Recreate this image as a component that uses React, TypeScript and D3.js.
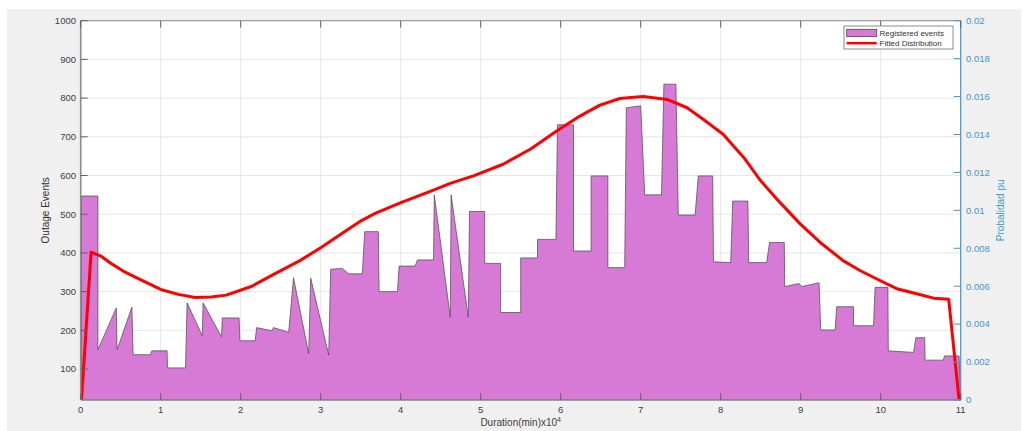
import React from "react";
import * as d3 from "d3";

// Registered events polygon vertices: [duration (x10^4 min), outage events]
const eventX = [0.01, 0.01, 0.215, 0.215, 0.445, 0.455, 0.64, 0.655, 0.87, 0.89, 1.08, 1.085, 1.31, 1.33, 1.52, 1.53, 1.76, 1.77, 1.98, 1.99, 2.18, 2.2, 2.39, 2.41, 2.6, 2.66, 2.85, 2.875, 3.1, 3.125, 3.27, 3.35, 3.52, 3.55, 3.72, 3.73, 3.96, 3.98, 4.18, 4.21, 4.41, 4.42, 4.62, 4.63, 4.845, 4.86, 5.05, 5.05, 5.25, 5.25, 5.5, 5.5, 5.71, 5.71, 5.94, 5.96, 6.16, 6.16, 6.38, 6.38, 6.59, 6.59, 6.8, 6.82, 7.0, 7.05, 7.26, 7.29, 7.44, 7.47, 7.68, 7.72, 7.9, 7.91, 8.125, 8.15, 8.34, 8.35, 8.575, 8.61, 8.795, 8.8, 8.98, 9.01, 9.23, 9.25, 9.43, 9.45, 9.66, 9.66, 9.91, 9.93, 10.09, 10.095, 10.41, 10.44, 10.55, 10.555, 10.78, 10.8, 10.98, 11.0];
const eventY = [20, 547, 547, 150, 258, 150, 260, 137, 137, 147, 147, 103, 103, 271, 186, 271, 183, 232, 232, 173, 173, 207, 199, 207, 195, 336, 140, 335, 136, 358, 360, 346, 346, 455, 455, 300, 300, 366, 366, 382, 382, 550, 234, 550, 234, 507, 507, 373, 373, 246, 246, 387, 387, 435, 435, 731, 731, 405, 405, 599, 599, 362, 362, 775, 780, 550, 550, 836, 836, 498, 498, 599, 599, 377, 375, 534, 534, 375, 375, 427, 427, 313, 321, 313, 323, 201, 201, 261, 261, 212, 212, 311, 311, 147, 143, 181, 181, 123, 123, 134, 134, 20];

// Fitted distribution: [duration, probability pu]
const fitX = [0.01, 0.13, 0.26, 0.38, 0.53, 0.72, 1.0, 1.22, 1.43, 1.63, 1.82, 2.14, 2.43, 2.74, 3.01, 3.26, 3.51, 3.68, 4.01, 4.37, 4.62, 4.91, 5.28, 5.62, 5.95, 6.24, 6.49, 6.74, 7.03, 7.33, 7.58, 7.78, 8.03, 8.29, 8.5, 8.74, 8.99, 9.24, 9.53, 9.74, 9.99, 10.2, 10.45, 10.66, 10.85, 10.98];
const fitP = [0, 0.0078, 0.00757, 0.0072, 0.0068, 0.0064, 0.00583, 0.00557, 0.0054, 0.00543, 0.00553, 0.006, 0.00666, 0.00735, 0.00805, 0.00876, 0.00946, 0.00984, 0.01042, 0.011, 0.01142, 0.01182, 0.01243, 0.01322, 0.01418, 0.01497, 0.01555, 0.0159, 0.016, 0.01585, 0.01541, 0.0148, 0.01401, 0.01278, 0.01156, 0.01042, 0.0093, 0.00832, 0.00735, 0.00683, 0.0063, 0.00587, 0.0056, 0.00537, 0.00531, 0];

const xTicks = [0, 1, 2, 3, 4, 5, 6, 7, 8, 9, 10, 11];
const leftTicks = [100, 200, 300, 400, 500, 600, 700, 800, 900, 1000];
const rightTicks = [0, 0.002, 0.004, 0.006, 0.008, 0.01, 0.012, 0.014, 0.016, 0.018, 0.02];

const FONT = "'Liberation Sans', Arial, Helvetica, sans-serif";
const PURPLE = "#d67ad6";
const BLUE = "#4097d5";

export default function App() {
  const L = 80.7, R = 960.7, T = 20.7, B = 400;
  const x = d3.scaleLinear().domain([0, 11]).range([L, R]);
  const yL = d3.scaleLinear().domain([20, 1000]).range([B, T]);
  const yR = d3.scaleLinear().domain([0, 0.02]).range([B, T]);

  const areaPts: [number, number][] = eventX.map((v, i) => [x(v), yL(eventY[i])]);
  const polyPath = d3.line()(areaPts) + "Z";
  const fitPath = d3.line().curve(d3.curveLinear)(fitX.map((v, i) => [x(v), yR(fitP[i])] as [number, number])) || "";

  const tl = 7;
  return (
    <svg width={1026} height={431} style={{ position: "absolute", left: 0, top: 0 }} fontFamily={FONT}>
      <rect x={0} y={0} width={1026} height={431} fill="#ffffff" />
      <rect x={7} y={9} width={1014} height={422} fill="#f0f0f0" />
      <rect x={L} y={T} width={R - L} height={B - T} fill="#ffffff" />
      {/* grid */}
      {xTicks.map((t) => (
        <line key={"gx" + t} x1={x(t)} x2={x(t)} y1={T} y2={B} stroke="#e6e6e6" strokeWidth={1} />
      ))}
      {leftTicks.map((t) => (
        <line key={"gy" + t} x1={L} x2={R} y1={yL(t)} y2={yL(t)} stroke="#e6e6e6" strokeWidth={1} />
      ))}
      {/* registered events */}
      <path d={polyPath} fill={PURPLE} stroke="#4a4a4a" strokeWidth={0.9} strokeOpacity={0.8} />
      {/* fitted distribution */}
      <path d={fitPath} fill="none" stroke="#ff0000" strokeWidth={3} strokeLinejoin="round" />
      {/* axes box */}
      <line x1={L} x2={R} y1={T} y2={T} stroke="#a0a0a0" strokeWidth={1.2} />
      <line x1={L} x2={R} y1={B} y2={B} stroke="#8c8c8c" strokeWidth={1.2} />
      <line x1={L} x2={L} y1={T} y2={B} stroke="#8c8c8c" strokeWidth={1.6} />
      <line x1={R} x2={R} y1={T} y2={B} stroke={BLUE} strokeWidth={1.2} />
      {/* x ticks */}
      {xTicks.map((t) => (
        <g key={"xt" + t}>
          <line x1={x(t)} x2={x(t)} y1={B} y2={B - tl} stroke="#606060" strokeWidth={1} />
          <line x1={x(t)} x2={x(t)} y1={T} y2={T + tl} stroke="#606060" strokeWidth={1} />
          <text x={x(t)} y={413} textAnchor="middle" fontSize={9.5} fill="#404040">{t}</text>
        </g>
      ))}
      {/* left ticks */}
      {leftTicks.map((t) => (
        <g key={"lt" + t}>
          <line x1={L} x2={L + tl} y1={yL(t)} y2={yL(t)} stroke="#606060" strokeWidth={1} />
          <text x={76} y={yL(t) + 3.3} textAnchor="end" fontSize={9.5} fill="#404040">{t}</text>
        </g>
      ))}
      {/* right ticks */}
      {rightTicks.map((t) => (
        <g key={"rt" + t}>
          <line x1={R} x2={R - tl} y1={yR(t)} y2={yR(t)} stroke={BLUE} strokeWidth={1} />
          <text x={966} y={yR(t) + 3.3} textAnchor="start" fontSize={9.5} fill={BLUE}>{t === 0 ? "0" : String(+t.toFixed(3))}</text>
        </g>
      ))}
      {/* axis labels */}
      <text transform={`translate(49,${(T + B) / 2}) rotate(-90)`} textAnchor="middle" fontSize={10} fill="#303030">Outage Events</text>
      <text transform={`translate(1004,${(T + B) / 2}) rotate(-90)`} textAnchor="middle" fontSize={10} fill={BLUE}>Probalidad pu</text>
      <text x={(L + R) / 2} y={426} textAnchor="middle" fontSize={10} fill="#404040">
        Duration(min)x10<tspan dy={-4} fontSize={7}>4</tspan>
      </text>
      {/* legend */}
      <rect x={844} y={26} width={109} height={23} fill="#ffffff" stroke="#8c8c8c" strokeWidth={1} />
      <rect x={846.7} y={29.3} width={30} height={7.3} fill={PURPLE} stroke="#4a4a4a" strokeWidth={0.8} />
      <text x={879.5} y={36} fontSize={8} fill="#303030">Registered events</text>
      <line x1={846.7} x2={876.7} y1={43.2} y2={43.2} stroke="#ff0000" strokeWidth={2.5} />
      <text x={879.5} y={46} fontSize={8} fill="#303030">Fitted Distribution</text>
    </svg>
  );
}
